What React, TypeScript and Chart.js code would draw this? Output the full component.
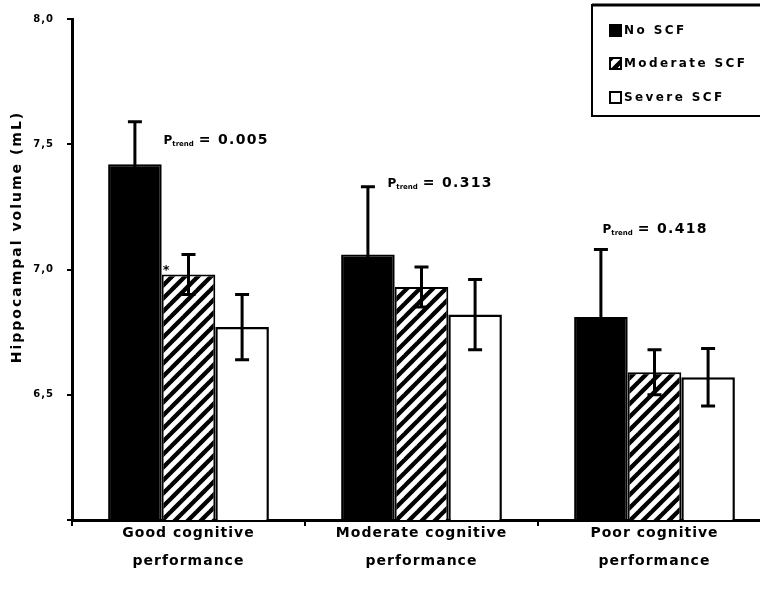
import React, { useEffect, useRef } from "react";
import { Chart, registerables } from "chart.js";

Chart.register(...registerables);

// Cognitive performance groups (x axis)
const categories: string[][] = [
  ["Good cognitive", "performance"],
  ["Moderate cognitive", "performance"],
  ["Poor cognitive", "performance"],
];

// Mean hippocampal volume (mL) by subjective cognitive failure (SCF) group
const noScf = [7.42, 7.06, 6.81];
const moderateScf = [6.98, 6.93, 6.59];
const severeScf = [6.77, 6.82, 6.57];

// Standard deviations for the error bars
const noScfSd = [0.17, 0.27, 0.27];
const moderateScfSd = [0.08, 0.08, 0.09];
const severeScfSd = [0.13, 0.14, 0.115];

// P for trend within each performance group
const pTrend = ["0.005", "0.313", "0.418"];
// Vertical placement (in mL) of each P-trend label
const pTrendLevel = [7.52, 7.35, 7.165];

// Y-axis tick values
const yTicks = [6.0, 6.5, 7.0, 7.5, 8.0];

const FONT = "'DejaVu Sans', 'Liberation Sans', sans-serif";

function makeHatch(): CanvasPattern | string {
  const size = 13;
  const c = document.createElement("canvas");
  c.width = size;
  c.height = size;
  const g = c.getContext("2d");
  if (!g) return "#000";
  g.fillStyle = "#000";
  g.fillRect(0, 0, size, size);
  g.strokeStyle = "#fff";
  g.lineWidth = 4.8;
  g.lineCap = "square";
  for (let k = -1; k <= 1; k++) {
    g.beginPath();
    g.moveTo(k * size, size);
    g.lineTo(k * size + size, 0);
    g.stroke();
  }
  const ctx = document.createElement("canvas").getContext("2d");
  return (ctx && ctx.createPattern(c, "repeat")) || "#000";
}

const spacingPlugin = {
  id: "letterSpacing",
  beforeDraw(chart: any) {
    chart.ctx.letterSpacing = "1px";
  },
};

const errorBarPlugin = {
  id: "errorBars",
  afterDatasetsDraw(chart: any) {
    const { ctx } = chart;
    const y = chart.scales.y;
    ctx.save();
    ctx.strokeStyle = "#000";
    ctx.lineWidth = 3;
    chart.data.datasets.forEach((ds: any, di: number) => {
      const meta = chart.getDatasetMeta(di);
      meta.data.forEach((bar: any, i: number) => {
        const v = ds.data[i];
        const sd = ds.sd[i];
        const yTop = y.getPixelForValue(v + sd);
        const yBot = y.getPixelForValue(v - sd);
        const x = bar.x;
        const cap = 7;
        ctx.beginPath();
        ctx.moveTo(x, yTop);
        ctx.lineTo(x, yBot);
        ctx.moveTo(x - cap, yTop);
        ctx.lineTo(x + cap, yTop);
        ctx.moveTo(x - cap, yBot);
        ctx.lineTo(x + cap, yBot);
        ctx.stroke();
      });
    });
    ctx.restore();
  },
};

const annotationPlugin = {
  id: "pTrendLabels",
  afterDatasetsDraw(chart: any) {
    const { ctx } = chart;
    const x = chart.scales.x;
    const y = chart.scales.y;
    const shifts = [-25, -34, -52];
    ctx.save();
    ctx.fillStyle = "#000";
    ctx.textAlign = "left";
    ctx.textBaseline = "alphabetic";
    pTrend.forEach((p, i) => {
      let px = x.getPixelForValue(i) + shifts[i];
      const py = y.getPixelForValue(pTrendLevel[i]) + 5;
      ctx.letterSpacing = "0px";
      ctx.font = `bold 12px ${FONT}`;
      ctx.fillText("P", px, py);
      px += ctx.measureText("P").width;
      ctx.font = `bold 7px ${FONT}`;
      ctx.fillText("trend", px, py + 2);
      px += ctx.measureText("trend").width + 5;
      ctx.letterSpacing = "1.3px";
      ctx.font = `bold 14px ${FONT}`;
      ctx.fillText("= " + p, px, py);
    });
    // significance mark beside the moderate SCF bar of the first group
    const mod = chart.getDatasetMeta(1).data[0];
    if (mod) {
      ctx.font = `bold 13px ${FONT}`;
      ctx.fillText("*", mod.x - mod.width / 2 + 1, y.getPixelForValue(7.0) + 4);
    }
    ctx.restore();
  },
};

const legendPlugin = {
  id: "boxLegend",
  afterDraw(chart: any) {
    const { ctx } = chart;
    const left = 592;
    const top = 5;
    const rows = [30, 63, 97];
    ctx.save();
    ctx.fillStyle = "#fff";
    ctx.fillRect(left, top, 200, 111);
    ctx.strokeStyle = "#000";
    ctx.lineWidth = 2;
    ctx.strokeRect(left, top, 200, 111);
    ctx.lineWidth = 3;
    ctx.beginPath();
    ctx.moveTo(left, top);
    ctx.lineTo(left + 200, top);
    ctx.stroke();
    chart.data.datasets.forEach((ds: any, i: number) => {
      const cy = rows[i];
      ctx.fillStyle = ds.backgroundColor;
      ctx.fillRect(610, cy - 5, 11, 11);
      ctx.lineWidth = 2;
      ctx.strokeStyle = "#000";
      ctx.strokeRect(610, cy - 5, 11, 11);
      ctx.fillStyle = "#000";
      ctx.font = `bold 12px ${FONT}`;
      ctx.letterSpacing = "2.4px";
      ctx.textAlign = "left";
      ctx.textBaseline = "middle";
      ctx.fillText(ds.label, 624, cy + 1);
    });
    ctx.restore();
  },
};

const yTitlePlugin = {
  id: "yTitle",
  afterDraw(chart: any) {
    const { ctx } = chart;
    ctx.save();
    ctx.translate(17, 237);
    ctx.rotate(-Math.PI / 2);
    ctx.font = `bold 14px ${FONT}`;
    ctx.letterSpacing = "2px";
    ctx.fillStyle = "#000";
    ctx.textAlign = "center";
    ctx.textBaseline = "middle";
    ctx.fillText("Hippocampal volume (mL)", 0, 0);
    ctx.restore();
  },
};

export default function App() {
  const canvasRef = useRef<HTMLCanvasElement | null>(null);

  useEffect(() => {
    if (!canvasRef.current) return;
    const hatch = makeHatch();
    const chart = new Chart(canvasRef.current, {
      type: "bar",
      data: {
        labels: categories,
        datasets: [
          {
            label: "No SCF",
            data: noScf,
            sd: noScfSd,
            backgroundColor: "#000",
            borderColor: "#000",
            borderWidth: 2,
          } as any,
          {
            label: "Moderate SCF",
            data: moderateScf,
            sd: moderateScfSd,
            backgroundColor: hatch,
            borderColor: "#000",
            borderWidth: 2,
          } as any,
          {
            label: "Severe SCF",
            data: severeScf,
            sd: severeScfSd,
            backgroundColor: "#fff",
            borderColor: "#000",
            borderWidth: 2.5,
          } as any,
        ],
      },
      options: {
        animation: false,
        responsive: true,
        maintainAspectRatio: false,
        layout: { padding: { top: 15, right: 0, left: 0, bottom: 0 } },
        datasets: {
          bar: { categoryPercentage: 0.69, barPercentage: 1.0 },
        },
        plugins: {
          legend: { display: false },
          tooltip: { enabled: false },
        },
        scales: {
          x: {
            grid: {
              drawOnChartArea: false,
              color: "#000",
              tickLength: 6,
              lineWidth: 2,
            },
            border: { color: "#000", width: 3 },
            ticks: {
              color: "#000",
              font: { family: FONT, weight: "bold", size: 14, lineHeight: 1.95 },
              padding: -6,
              maxRotation: 0,
            },
            afterFit(scale: any) {
              scale.height = 75;
            },
          },
          y: {
            min: 6,
            max: 8,
            afterBuildTicks(scale: any) {
              scale.ticks = yTicks.map((v) => ({ value: v }));
            },
            grid: {
              drawOnChartArea: false,
              color: "#000",
              tickLength: 5,
              lineWidth: 2,
            },
            border: { color: "#000", width: 3 },
            ticks: {
              color: "#000",
              padding: 13,
              font: { family: FONT, weight: "bold", size: 10 },
              callback: (v: any) =>
                Number(v) === 6 ? "" : Number(v).toFixed(1).replace(".", ","),
            },
            afterFit(scale: any) {
              scale.width = 72;
            },
          },
        },
      },
      plugins: [spacingPlugin, errorBarPlugin, annotationPlugin, legendPlugin, yTitlePlugin],
    });
    return () => chart.destroy();
  }, []);

  return (
    <div
      style={{
        position: "absolute",
        left: 0,
        top: 0,
        width: 760,
        height: 595,
        overflow: "hidden",
        background: "#fff",
      }}
    >
      <div style={{ position: "relative", width: 771, height: 595 }}>
        <canvas ref={canvasRef} />
      </div>
    </div>
  );
}
